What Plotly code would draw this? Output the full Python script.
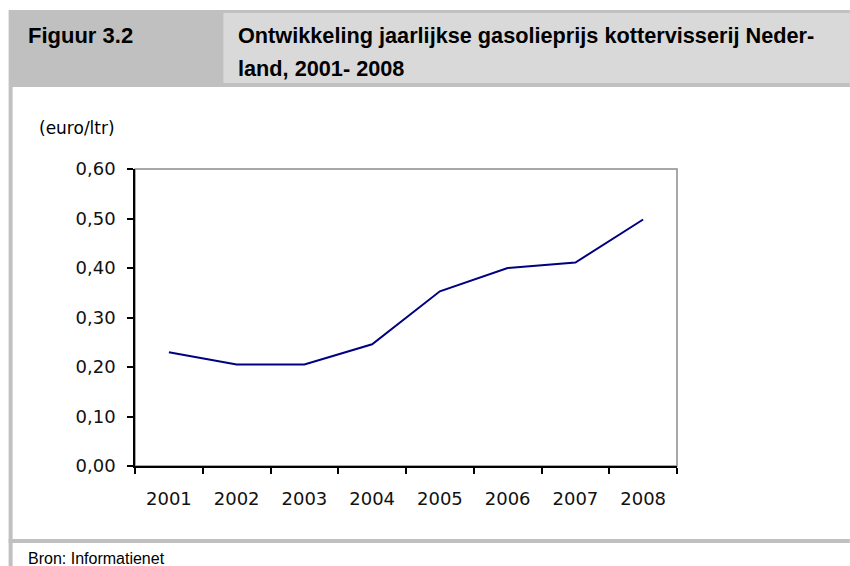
import plotly.graph_objects as go

years = ["2001", "2002", "2003", "2004", "2005", "2006", "2007", "2008"]
price = [0.230, 0.205, 0.205, 0.246, 0.353, 0.400, 0.411, 0.498]
y_ticks = [0.0, 0.1, 0.2, 0.3, 0.4, 0.5, 0.6]

fig_title_left = "Figuur 3.2"
fig_title_line1 = "Ontwikkeling jaarlijkse gasolieprijs kottervisserij Neder-"
fig_title_line2 = "land, 2001- 2008"
unit_label = "(euro/ltr)"
source_label = "Bron: Informatienet"

W, H = 850, 566
L, R, T, B = 134.5, 173, 169, 100
PW, PH = W - L - R, H - T - B


def px(x):
    return (x - L) / PW


def py(y):
    return (H - y - B) / PH


fig = go.Figure()
fig.add_trace(go.Scatter(
    x=years, y=price, mode="lines",
    line=dict(color="#000080", width=2),
    showlegend=False, hoverinfo="skip",
))

shapes = []


def rect(x0, y0, x1, y1, color, layer="below"):
    shapes.append(dict(type="rect", xref="paper", yref="paper",
                       x0=px(x0), x1=px(x1), y0=py(y1), y1=py(y0),
                       fillcolor=color, line=dict(width=0), layer=layer))


rect(8, 10, 850, 87, "#c0c0c0")
rect(223, 13, 850, 83, "#d9d9d9")
rect(8, 87, 12, 566, "#c0c0c0")
rect(8, 539, 850, 543, "#c0c0c0")
# plot frame (grey top/right)
shapes.append(dict(type="rect", xref="paper", yref="paper", x0=0, x1=1, y0=0, y1=1,
                   line=dict(color="#8c8c8c", width=1.5), fillcolor="rgba(0,0,0,0)",
                   layer="below"))

annotations = []


def text(x, y, s, size, family, bold=False):
    annotations.append(dict(xref="paper", yref="paper", x=px(x), y=py(y),
                            xanchor="left", yanchor="middle", showarrow=False,
                            text=("<b>%s</b>" % s) if bold else s,
                            font=dict(size=size, family=family, color="#000000")))


HF = "Liberation Sans, Arial"
text(25, 35, fig_title_left, 22, HF, bold=True)
text(236, 35, fig_title_line1, 21.7, HF, bold=True)
text(236, 68, fig_title_line2, 21.7, HF, bold=True)
text(36, 128, unit_label, 17, "DejaVu Sans")
text(25, 558, source_label, 16, "Liberation Sans")

fig.update_layout(
    width=W, height=H, autosize=False,
    margin=dict(l=L, r=R, t=T, b=B, pad=0),
    paper_bgcolor="white", plot_bgcolor="white",
    separators=",.",
    shapes=shapes, annotations=annotations,
    xaxis=dict(type="category", range=[-0.5, 7.5], tickson="boundaries",
               ticks="outside", ticklen=6, tickcolor="black", tickwidth=1.5,
               showline=True, linecolor="black", linewidth=1.5,
               showgrid=False, zeroline=False, ticklabelstandoff=16,
               tickfont=dict(family="DejaVu Sans", size=18, color="#111")),
    yaxis=dict(range=[0, 0.6], tickvals=y_ticks, tickformat=".2f",
               ticks="outside", ticklen=6, tickcolor="black", tickwidth=1.5,
               showline=True, linecolor="black", linewidth=1.5,
               showgrid=False, zeroline=False, ticklabelstandoff=8,
               tickfont=dict(family="DejaVu Sans", size=18, color="#111")),
)

fig.write_html("out.html", config={"displayModeBar": False},
               post_script="document.body.style.margin='0';document.body.style.overflow='hidden';")
